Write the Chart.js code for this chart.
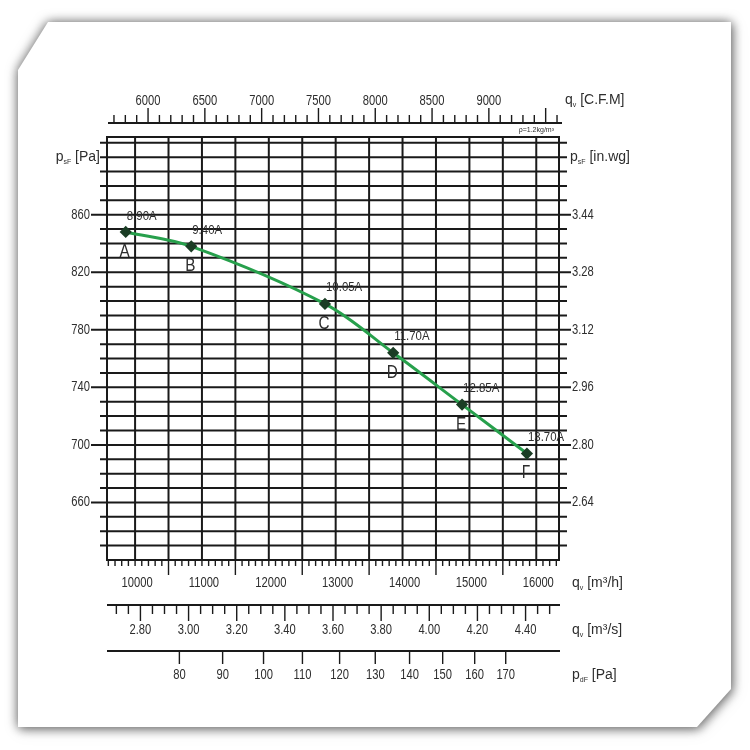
<!DOCTYPE html>
<html>
<head>
<meta charset="utf-8">
<script src="https://cdn.jsdelivr.net/npm/chart.js@4.4.1/dist/chart.umd.min.js"></script>
<style>
    html, body { margin: 0; padding: 0; background: #fff; }
    #wrap { position: relative; width: 750px; height: 750px; overflow: hidden; background: #fff; }
    .shadow {
        position: absolute; left: 0; top: 0; width: 750px; height: 750px;
        filter: drop-shadow(0 0 6px rgba(0, 0, 0, 0.55)) drop-shadow(2px 3px 4px rgba(0, 0, 0, 0.25));
    }
    .paper {
        position: absolute; left: 18px; top: 22px; width: 713px; height: 705px;
        background: #fff;
        clip-path: polygon(30px 0, 100% 0, 100% calc(100% - 38px), calc(100% - 34px) 100%, 0 100%, 0 48px);
    }
    #fanChart { position: absolute; left: 0; top: 0; }
</style>
</head>
<body>
<div id="wrap">
    <div class="shadow"><div class="paper"></div></div>
    <canvas id="fanChart" width="750" height="750"></canvas>
</div>
<script>
// Operating points
const flowM3h = [9860, 10840, 12840, 13860, 14890, 15860];
const staticPa = [848, 838, 798, 764, 728, 694];
const currentLabels = ['8.90A', '9.40A', '10.05A', '11.70A', '12.85A', '13.70A'];
const pointNames = ['A', 'B', 'C', 'D', 'E', 'Γ'];

// Axis tick labels
const m3hTicks = [10000, 11000, 12000, 13000, 14000, 15000, 16000];
const cfmTicks = [6000, 6500, 7000, 7500, 8000, 8500, 9000];
const m3sTicks = ['2.80', '3.00', '3.20', '3.40', '3.60', '3.80', '4.00', '4.20', '4.40'];
const dynPaTicks = [80, 90, 100, 110, 120, 130, 140, 150, 160, 170];
const paTicks = [660, 700, 740, 780, 820, 860];
const inwgTicks = ['2.64', '2.80', '2.96', '3.12', '3.28', '3.44'];

// Unit conversions for the secondary scales
const CFM_TO_M3H = 1.699;
const AIR_DENSITY = 1.2;      // kg/m3
const OUTLET_AREA = 0.2565;   // m2, gives the dynamic pressure scale

const LINE = '#1a1a1a';
const TEXT = '#2e2e2e';
const FONT = '"Liberation Sans", Arial, sans-serif';

function text(ctx, str, x, y, opts) {
    const o = Object.assign({ size: 14, align: 'center', sx: 0.8, color: TEXT }, opts);
    ctx.save();
    ctx.font = o.size + 'px ' + FONT;
    ctx.fillStyle = o.color;
    ctx.textBaseline = 'middle';
    ctx.textAlign = o.align;
    ctx.translate(x, y);
    ctx.scale(o.sx, 1);
    ctx.fillText(str, 0, 0);
    ctx.restore();
}

// label like q_v [m3/h] : main letter, subscript, rest
function unitLabel(ctx, main, sub, rest, x, y, alignRight) {
    ctx.save();
    ctx.font = '14px ' + FONT;
    const w1 = ctx.measureText(main).width;
    const w3 = ctx.measureText(rest).width;
    ctx.font = '7px ' + FONT;
    const w2 = ctx.measureText(sub).width;
    const total = w1 + w2 + w3;
    let sx = alignRight ? x - total : x;
    ctx.fillStyle = TEXT;
    ctx.textBaseline = 'middle';
    ctx.textAlign = 'left';
    ctx.font = '14px ' + FONT;
    ctx.fillText(main, sx, y);
    ctx.font = '7px ' + FONT;
    ctx.fillText(sub, sx + w1, y + 5);
    ctx.font = '14px ' + FONT;
    ctx.fillText(rest, sx + w1 + w2, y);
    ctx.restore();
}

function seg(ctx, x1, y1, x2, y2) {
    ctx.beginPath();
    ctx.moveTo(x1, y1);
    ctx.lineTo(x2, y2);
    ctx.stroke();
}

const fanAxes = {
    id: 'fanAxes',
    beforeDatasetsDraw(chart) {
        const { ctx, chartArea: a, scales: { x, y } } = chart;
        ctx.save();
        ctx.strokeStyle = LINE;
        ctx.lineWidth = 2;

        // horizontal grid, every 10 Pa
        for (let p = 630; p <= 910; p += 10) {
            const py = y.getPixelForValue(p);
            const idx = paTicks.indexOf(p);
            seg(ctx, idx >= 0 ? a.left - 16 : a.left - 7, py, idx >= 0 ? a.right + 12 : a.right + 8, py);
            if (idx >= 0) {
                text(ctx, String(p), a.left - 17, py, { align: 'right' });
                text(ctx, inwgTicks[idx], a.right + 13, py, { align: 'left' });
            }
        }
        unitLabel(ctx, 'p', 'sF', ' [Pa]', a.left - 7, y.getPixelForValue(900), true);
        unitLabel(ctx, 'p', 'sF', ' [in.wg]', a.right + 11, y.getPixelForValue(900));

        // vertical grid, every 500 m3/h
        for (let q = 10000; q <= 16000; q += 500) {
            const px = x.getPixelForValue(q);
            seg(ctx, px, a.top, px, a.bottom);
        }
        ctx.strokeRect(a.left, a.top, a.right - a.left, a.bottom - a.top);

        // bottom m3/h ticks
        ctx.lineWidth = 1.4;
        for (let q = 9600; q <= 16300; q += 100) {
            const px = x.getPixelForValue(q);
            seg(ctx, px, a.bottom, px, a.bottom + (q % 1000 === 500 ? 15 : 6));
        }
        m3hTicks.forEach(q => text(ctx, String(q), x.getPixelForValue(q) + 2, a.bottom + 23));
        unitLabel(ctx, 'q', 'v', ' [m³/h]', a.right + 13, a.bottom + 23);

        // top CFM scale
        const topY = a.top - 14;
        ctx.lineWidth = 2;
        seg(ctx, a.left + 1, topY, a.right + 3, topY);
        ctx.lineWidth = 1.4;
        for (let c = 5700; c <= 9600; c += 100) {
            const px = x.getPixelForValue(c * CFM_TO_M3H);
            seg(ctx, px, topY, px, topY - (c % 500 === 0 ? 15 : 8));
        }
        cfmTicks.forEach(c => text(ctx, String(c), x.getPixelForValue(c * CFM_TO_M3H), topY - 22));
        unitLabel(ctx, 'q', 'v', ' [C.F.M]', a.right + 6, topY - 23);
        text(ctx, 'ρ=1.2kg/m³', a.right - 5, a.top - 7, { size: 7, align: 'right', sx: 1 });

        // m3/s scale
        const sY = a.bottom + 45;
        ctx.lineWidth = 2;
        seg(ctx, a.left, sY, a.right + 1, sY);
        ctx.lineWidth = 1.4;
        for (let v = 270; v <= 450; v += 5) {
            const px = x.getPixelForValue(v / 100 * 3600);
            seg(ctx, px, sY, px, sY + (v % 20 === 0 ? 16 : 9));
        }
        m3sTicks.forEach(s => text(ctx, s, x.getPixelForValue(parseFloat(s) * 3600), sY + 25));
        unitLabel(ctx, 'q', 'v', ' [m³/s]', a.right + 13, sY + 25);

        // dynamic pressure scale
        const dY = a.bottom + 91;
        ctx.lineWidth = 2;
        seg(ctx, a.left, dY, a.right + 1, dY);
        ctx.lineWidth = 1.4;
        dynPaTicks.forEach(pd => {
            const q = OUTLET_AREA * Math.sqrt(2 * pd / AIR_DENSITY) * 3600;
            const px = x.getPixelForValue(q);
            seg(ctx, px, dY, px, dY + 13);
            text(ctx, String(pd), px, dY + 24);
        });
        unitLabel(ctx, 'p', 'dF', ' [Pa]', a.right + 13, dY + 24);
        ctx.restore();
    }
};

const pointLabels = {
    id: 'pointLabels',
    afterDatasetsDraw(chart) {
        const { ctx } = chart;
        chart.getDatasetMeta(0).data.forEach((pt, i) => {
            text(ctx, currentLabels[i], pt.x + 1, pt.y - 16, { size: 13, align: 'left', sx: 0.88 });
            text(ctx, pointNames[i], pt.x - 1, pt.y + 20, { size: 18, sx: 0.85 });
        });
    }
};

const ctx = document.getElementById('fanChart');
new Chart(ctx, {
    type: 'line',
    data: {
        datasets: [{
            data: flowM3h.map((q, i) => ({ x: q, y: staticPa[i] })),
            borderColor: '#27a04c',
            borderWidth: 3,
            tension: 0.35,
            pointStyle: 'rectRot',
            pointRadius: 4,
            pointBackgroundColor: '#1b3d25',
            pointBorderColor: '#1b3d25',
            fill: false
        }]
    },
    options: {
        responsive: false,
        animation: false,
        devicePixelRatio: 1,
        layout: { padding: { left: 107, top: 137, right: 191, bottom: 190 } },
        scales: {
            x: { type: 'linear', min: 9580, max: 16340, display: false },
            y: { type: 'linear', min: 620, max: 914, display: false }
        },
        plugins: {
            legend: { display: false },
            tooltip: { enabled: false }
        }
    },
    plugins: [fanAxes, pointLabels]
});
</script>
</body>
</html>
